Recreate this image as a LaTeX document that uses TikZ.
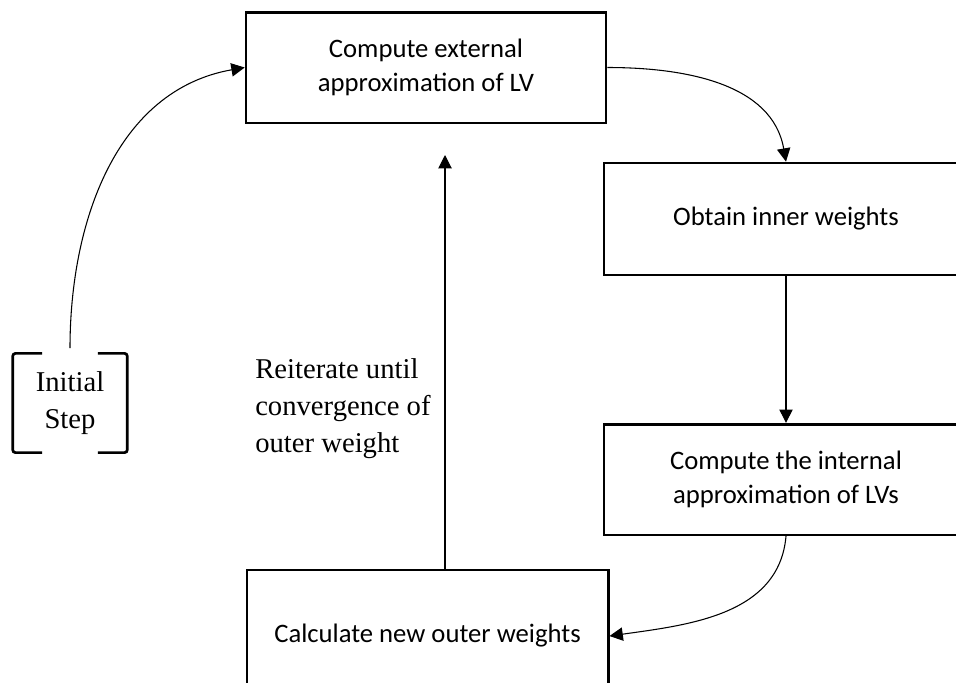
\documentclass[tikz,border=0pt]{standalone}
\usepackage{fontspec}
\setmainfont{Liberation Serif}
\newfontfamily\boxfont{Carlito}
\usetikzlibrary{arrows.meta}

\begin{document}
\begin{tikzpicture}[x=0.75pt, y=-0.75pt, >={Triangle[length=10pt, width=10pt]},
    stepbox/.style={draw, line width=2pt, minimum width=273pt, minimum height=84pt,
        align=center, font=\boxfont\fontsize{20}{26}\selectfont},
    note/.style={inner sep=0pt, font=\fontsize{21.5}{28}\selectfont},
    link/.style={->, line width=0.8pt}]
    \useasboundingbox (0,0) rectangle (956,682);
    \fill[white] (0,0) rectangle (956,682);

    % the four steps
    \node[stepbox, minimum width=270pt, minimum height=83pt] (ext) at (426,67.5) {Compute external\\approximation of LV};
    \node[stepbox] (inner) at (786,219) {Obtain inner weights};
    \node[stepbox, minimum height=83pt] (internal) at (786,479.5) {Compute the internal\\approximation of LVs};
    \node[stepbox, minimum width=271pt, minimum height=99pt] (outer) at (427.5,636) {Calculate new outer weights};

    % start
    \node[note, align=center, minimum width=85.5pt, minimum height=74pt] (init) at (70,403) {Initial\\Step};
    \draw[line width=2pt, rounded corners=2pt] ([xshift=22pt]init.north west) -- (init.north west) -- (init.south west) -- ([xshift=22pt]init.south west);
    \draw[line width=2pt, rounded corners=2pt] ([xshift=-22pt]init.north east) -- (init.north east) -- (init.south east) -- ([xshift=-22pt]init.south east);

    \node[note, align=left, anchor=north west] (loop) at (255,358) {Reiterate until\\convergence of\\outer weight};
    \coordinate (loopend) at (445,155);

    % connectors
    \draw[link, shorten <=4pt] (init.north) to[out=90, in=190] (ext.west);
    \draw[link] (ext.east) to[out=0, in=100] (inner.north);
    \draw[link] (inner.south) -- (internal.north);
    \draw[link] (internal.south) to[out=-95, in=8] (outer.east);
    \draw[link] (outer.north -| loopend) -- (loopend);
\end{tikzpicture}
\end{document}
